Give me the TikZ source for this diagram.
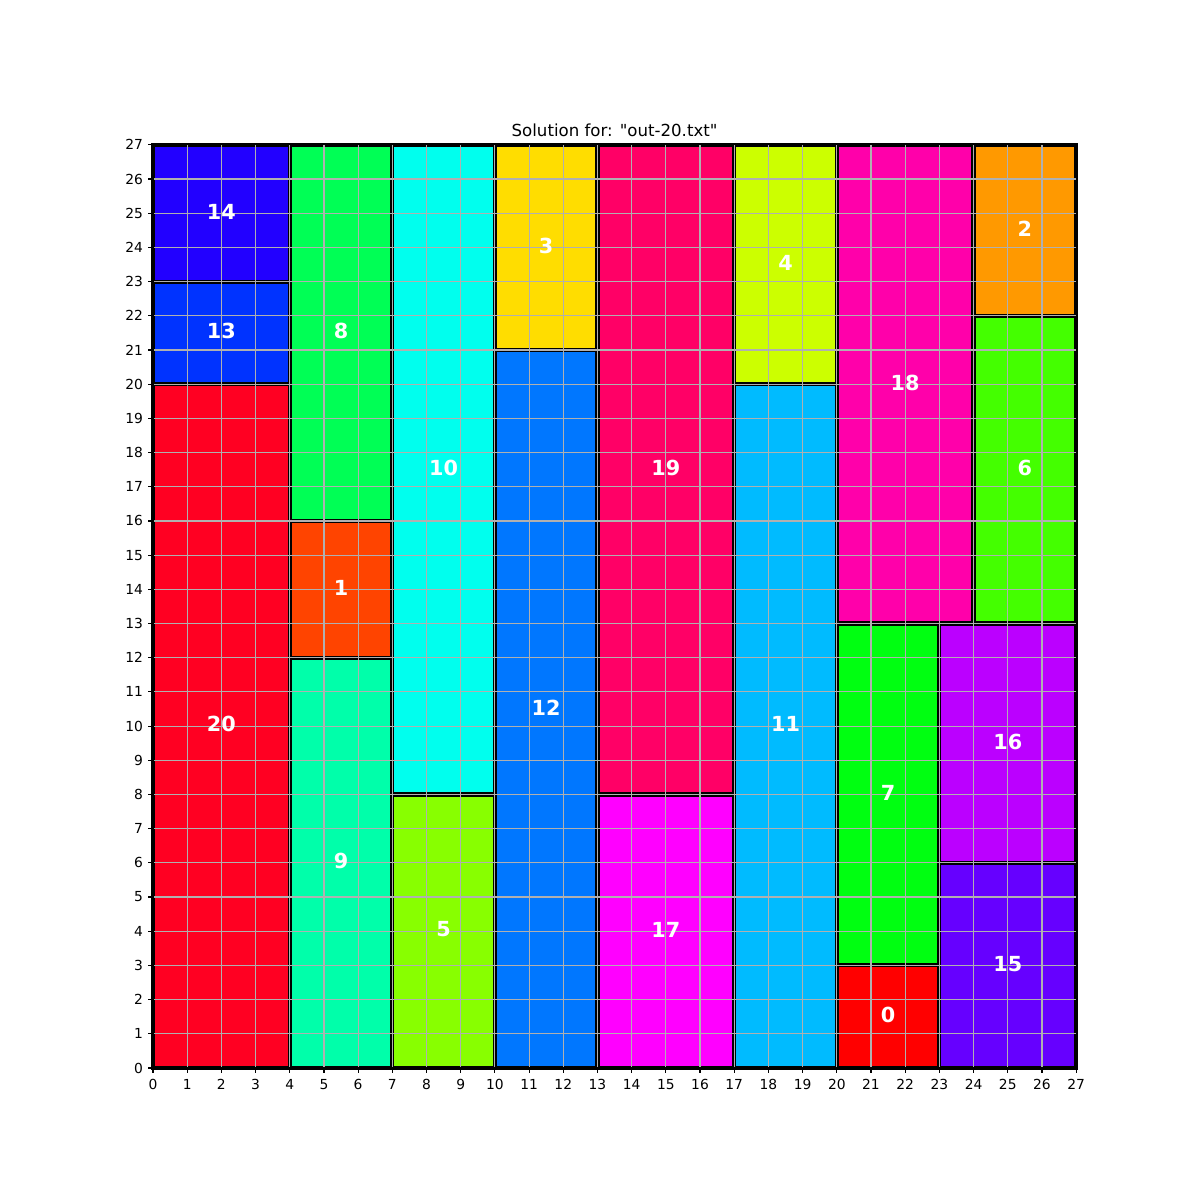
\documentclass[tikz,border=0pt]{standalone}
\usepackage{fontspec}
\setmainfont{DejaVu Sans}

\begin{document}
\begin{tikzpicture}[x=0.3419in, y=0.3419in]

% Colori dei pezzi
\definecolor{c0}{HTML}{FF0000}
\definecolor{c1}{HTML}{FF4400}
\definecolor{c2}{HTML}{FF9900}
\definecolor{c3}{HTML}{FFDD00}
\definecolor{c4}{HTML}{CCFF00}
\definecolor{c5}{HTML}{88FF00}
\definecolor{c6}{HTML}{44FF00}
\definecolor{c7}{HTML}{00FF11}
\definecolor{c8}{HTML}{00FF55}
\definecolor{c9}{HTML}{00FFAA}
\definecolor{c10}{HTML}{00FFEE}
\definecolor{c11}{HTML}{00BBFF}
\definecolor{c12}{HTML}{0077FF}
\definecolor{c13}{HTML}{0033FF}
\definecolor{c14}{HTML}{2200FF}
\definecolor{c15}{HTML}{6600FF}
\definecolor{c16}{HTML}{BB00FF}
\definecolor{c17}{HTML}{FF00FF}
\definecolor{c18}{HTML}{FF00AA}
\definecolor{c19}{HTML}{FF0066}
\definecolor{c20}{HTML}{FF0022}
\definecolor{gridGray}{HTML}{B0B0B0}

% Lato del quadrato
\def\n{27}

\useasboundingbox (-4.475,-3.861) rectangle (30.623,31.237);

% Pezzi: id / x / y / larghezza / altezza
\foreach \id/\x/\y/\w/\h in {20/0/0/4/20, 13/0/20/4/3, 14/0/23/4/4,
    9/4/0/3/12, 1/4/12/3/4, 8/4/16/3/11,
    5/7/0/3/8, 10/7/8/3/19,
    12/10/0/3/21, 3/10/21/3/6,
    17/13/0/4/8, 19/13/8/4/19,
    11/17/0/3/20, 4/17/20/3/7,
    0/20/0/3/3, 7/20/3/3/10, 18/20/13/4/14,
    15/23/0/4/6, 16/23/6/4/7,
    6/24/13/3/9, 2/24/22/3/5}
{
  \path[fill=c\id, draw=black, line width=3pt] (\x,\y) rectangle ++(\w,\h);
}

% Griglia
\draw[gridGray, line width=0.8pt, step=1] (0,0) grid (\n,\n);
\draw[black, line width=0.8pt] (0,0) rectangle (\n,\n);

% Etichette dei pezzi
\foreach \id/\cx/\cy in {20/2/10, 13/2/21.5, 14/2/25,
    9/5.5/6, 1/5.5/14, 8/5.5/21.5,
    5/8.5/4, 10/8.5/17.5,
    12/11.5/10.5, 3/11.5/24,
    17/15/4, 19/15/17.5,
    11/18.5/10, 4/18.5/23.5,
    0/21.5/1.5, 7/21.5/8, 18/22/20,
    15/25/3, 16/25/9.5,
    6/25.5/17.5, 2/25.5/24.5}
{
  \node[font=\fontsize{15}{18}\bfseries\selectfont, text=white, inner sep=0pt] (p\id) at (\cx,\cy) [yshift=1.2pt] {\id};
}

% Assi
\foreach \t in {0,...,27} {
  \draw[black, line width=0.8pt] (\t,0) -- ++(0,-3.5pt);
  \node[anchor=north, inner sep=0pt, font=\fontsize{10}{12}\selectfont] (xt\t) at (\t,0) [yshift=-8pt] {\t};
  \draw[black, line width=0.8pt] (0,\t) -- ++(-3.5pt,0);
  \node[anchor=east, inner sep=0pt, font=\fontsize{10}{12}\selectfont] (yt\t) at (0,\t) [xshift=-7pt] {\t};
}

% Titolo
\node[anchor=south, inner sep=0pt, font=\fontsize{12}{14}\selectfont] (title) at (\n/2,\n) [yshift=5.5pt] {Solution for: \textquotedbl out-20.txt\textquotedbl};

\end{tikzpicture}
\end{document}
